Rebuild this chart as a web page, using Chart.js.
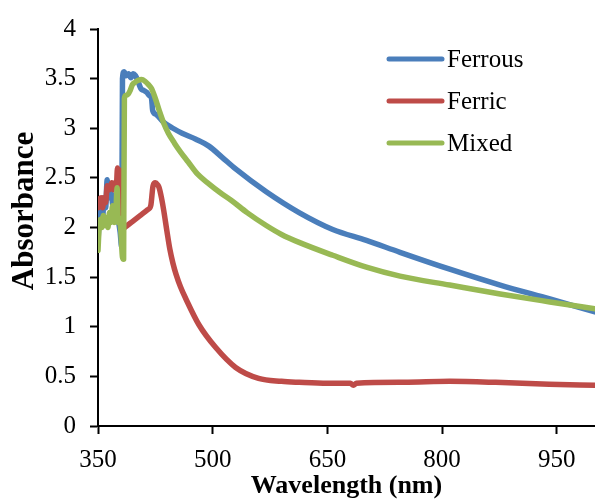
<!DOCTYPE html>
<html>
<head>
<meta charset="utf-8">
<title>Absorbance spectra</title>
<script src="https://cdn.jsdelivr.net/npm/chart.js@4.4.1/dist/chart.umd.min.js"></script>
<style>
  html, body { margin: 0; padding: 0; background: #fff; }
  #wrap { width: 595px; height: 504px; position: relative; }
</style>
</head>
<body>
<div id="wrap"><canvas id="spectra"></canvas></div>
<script>
/* ═══════════════════════════════════════════════════════════════════════════
   UV-Vis absorbance — Ferrous / Ferric / Mixed
   ═══════════════════════════════════════════════════════════════════════════ */

// ─── Data ────────────────────────────────────────────────────────────────────

const FERROUS_NM = [350, 352, 354, 356, 358, 360, 362, 364, 367, 370, 373, 376, 379, 381, 382, 384, 387, 390, 393, 396,
  399, 401, 403, 406, 410, 414, 417, 420, 421.5, 426, 436, 448, 460, 478, 495, 512, 530, 570, 613, 657,
  701, 745, 810, 876, 941, 1000];
const FERROUS_ABS = [1.85, 2.15, 2.25, 2.1, 2.3, 2.2, 2.48, 2.3, 2.35, 2.2, 2.25, 2.1, 1.95, 1.8, 3.5, 3.57, 3.53, 3.55, 3.51, 3.55,
  3.53, 3.5, 3.46, 3.4, 3.38, 3.36, 3.33, 3.3, 3.18, 3.14, 3.06, 3.0, 2.95, 2.89, 2.82, 2.71, 2.59, 2.36, 2.15, 1.98,
  1.87, 1.75, 1.58, 1.42, 1.28, 1.15];

const FERRIC_NM = [350, 352, 354, 356, 358, 360, 362, 364, 366, 368, 370, 372, 374, 375.5, 377, 378.5, 379.5, 382, 385, 395,
  405, 415, 419, 422, 425, 428, 430, 433, 436, 440, 444, 448, 452, 458, 465, 482, 504, 530, 560, 590,
  613, 650, 680, 684, 688, 750, 810, 870, 940, 1000];
const FERRIC_ABS = [2.2, 2.28, 2.3, 2.2, 2.3, 2.25, 2.42, 2.38, 2.4, 2.45, 2.38, 2.45, 2.42, 2.6, 2.55, 2.58, 2.02, 1.98, 2.0, 2.06,
  2.12, 2.18, 2.22, 2.42, 2.45, 2.43, 2.4, 2.3, 2.17, 1.97, 1.78, 1.64, 1.53, 1.4, 1.28, 1.02, 0.79, 0.59, 0.48, 0.45,
  0.44, 0.43, 0.43, 0.41, 0.43, 0.44, 0.45, 0.44, 0.42, 0.41];

const MIXED_NM = [350, 351.5, 353, 355, 357, 359, 361, 363, 365, 367, 369, 371, 373, 375, 376.5, 378, 380, 382, 383.5, 384.5,
  386, 389, 392, 395, 398, 402, 407, 412, 416, 420, 425, 430, 436, 442, 450, 458, 468, 480, 495, 510,
  525, 545, 570, 590, 613, 657, 701, 745, 810, 876, 941, 1000];
const MIXED_ABS = [1.77, 2.0, 2.08, 2.0, 2.12, 2.02, 2.1, 2.0, 2.15, 2.05, 2.22, 2.05, 2.1, 2.4, 2.05, 2.1, 1.95, 1.7, 1.68, 3.3,
  3.33, 3.34, 3.38, 3.44, 3.46, 3.48, 3.49, 3.47, 3.44, 3.4, 3.3, 3.18, 3.05, 2.95, 2.85, 2.76, 2.66, 2.54, 2.44, 2.35,
  2.27, 2.15, 2.02, 1.93, 1.85, 1.72, 1.6, 1.51, 1.42, 1.33, 1.25, 1.18];

const SERIES_LABELS = ['Ferrous', 'Ferric', 'Mixed'];
const SERIES_COLORS = ['#4A7EBB', '#BE4B48', '#98B954'];

const X_TICKS = [350, 500, 650, 800, 950];
const Y_TICKS = [0, 0.5, 1, 1.5, 2, 2.5, 3, 3.5, 4];

const X_TITLE = 'Wavelength (nm)';
const Y_TITLE = 'Absorbance';

const FONT_FAMILY = "'Liberation Serif', 'Times New Roman', serif";

// ─── Helpers ────────────────────────────────────────────────────────────────

function toPoints(xs, ys) {
  return xs.map((x, i) => ({ x, y: ys[i] }));
}

function buildDatasets() {
  const pairs = [[FERROUS_NM, FERROUS_ABS], [FERRIC_NM, FERRIC_ABS], [MIXED_NM, MIXED_ABS]];
  return pairs.map(([xs, ys], i) => ({
    label: SERIES_LABELS[i],
    data: toPoints(xs, ys),
    borderColor: SERIES_COLORS[i],
    backgroundColor: SERIES_COLORS[i],
    borderWidth: 5.5,
    pointRadius: 0,
    cubicInterpolationMode: 'monotone',
    borderJoinStyle: 'round',
    borderCapStyle: 'round',
    fill: false,
    order: 3 - i, // Mixed drawn on top, like the original
  }));
}

// legend sits inside the plot, top right
const insideLegend = {
  id: 'insideLegend',
  afterDatasetsDraw(chart) {
    const { ctx } = chart;
    ctx.save();
    ctx.font = `25px ${FONT_FAMILY}`;
    ctx.textBaseline = 'middle';
    ctx.fillStyle = '#000';
    chart.data.datasets.forEach((ds, i) => {
      const y = 59 + i * 42;
      ctx.strokeStyle = ds.borderColor;
      ctx.lineWidth = 5;
      ctx.lineCap = 'round';
      ctx.beginPath();
      ctx.moveTo(389, y);
      ctx.lineTo(442, y);
      ctx.stroke();
      ctx.fillText(ds.label, 447, y + 1);
    });
    ctx.restore();
  },
};

// y title is a bit larger and sits above centre in the original
const yTitle = {
  id: 'yTitle',
  afterDraw(chart) {
    const { ctx } = chart;
    ctx.save();
    ctx.font = `bold 31px ${FONT_FAMILY}`;
    ctx.fillStyle = '#000';
    ctx.textAlign = 'center';
    ctx.textBaseline = 'middle';
    ctx.translate(25, 211);
    ctx.rotate(-Math.PI / 2);
    ctx.fillText(Y_TITLE, 0, 0);
    ctx.restore();
  },
};

// ─── Chart ────────────────────────────────────────────────────────────────────

const tickFont = { family: FONT_FAMILY, size: 25 };
const titleFont = { family: FONT_FAMILY, size: 26, weight: 'bold' };

new Chart(document.getElementById('spectra').getContext('2d'), {
  type: 'line',
  data: { datasets: buildDatasets() },
  options: {
    responsive: true,
    maintainAspectRatio: false,
    animation: false,
    layout: { padding: { top: 24, right: 0, bottom: 0, left: 0 } },
    plugins: {
      legend: { display: false },
      tooltip: { enabled: false },
    },
    scales: {
      x: {
        type: 'linear',
        min: 350,
        max: 1000,
        afterBuildTicks: axis => { axis.ticks = X_TICKS.map(v => ({ value: v })); },
        afterFit: axis => { axis.height = 78; },
        ticks: { color: '#000', font: tickFont, padding: 11, maxRotation: 0 },
        grid: { drawOnChartArea: false, tickLength: 8, tickColor: '#000', tickWidth: 2 },
        border: { color: '#000', width: 2 },
        title: { display: true, text: X_TITLE, color: '#000', font: titleFont, padding: { top: 0, bottom: 2 } },
      },
      y: {
        min: 0,
        max: 4,
        afterBuildTicks: axis => { axis.ticks = Y_TICKS.map(v => ({ value: v })); },
        afterFit: axis => { axis.width = 98; },
        ticks: { color: '#000', font: tickFont, padding: 14, callback: v => String(v) },
        grid: { drawOnChartArea: false, tickLength: 8, tickColor: '#000', tickWidth: 2 },
        border: { color: '#000', width: 2 },
      },
    },
  },
  plugins: [insideLegend, yTitle],
});
</script>
</body>
</html>
